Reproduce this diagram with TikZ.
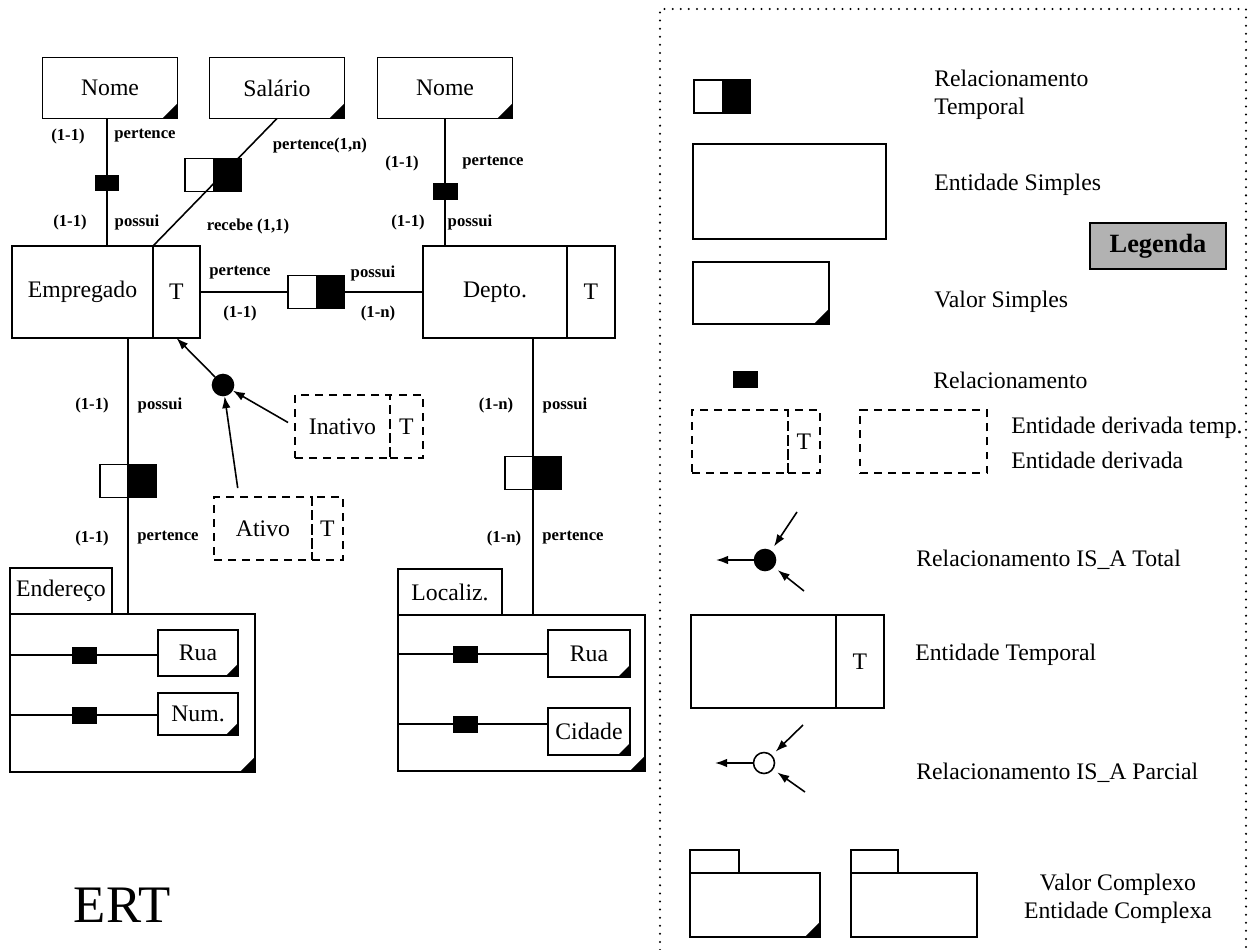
\documentclass[tikz,border=0pt]{standalone}
\usepackage{fontspec}
\setmainfont{Liberation Serif}
\usetikzlibrary{arrows.meta, positioning}
\tikzset{
  ent/.style={
    rectangle, draw, line width=0.9pt, fill=white,
    inner sep=0pt, outer sep=0pt,
    font=\fontsize{13.5}{16}\selectfont
  },
  val/.style={
    ent,
    path picture={\fill[black] (path picture bounding box.south east)
      -- ++(-#1,0) -- ++(#1,#1) -- cycle;}
  },
  val/.default=0.3cm,
  der/.style={ent, fill=none, dash pattern=on 4.5pt off 3.5pt},
  tabbox/.style={ent, anchor=south west, minimum height=0.92cm},
  rel/.style={
    rectangle, fill=black, inner sep=0pt,
    minimum width=0.5cm, minimum height=0.34cm
  },
  relt/.style={
    rectangle, draw, line width=0.9pt, fill=white, inner sep=0pt,
    minimum width=1.12cm, minimum height=0.66cm,
    path picture={\fill[black] (path picture bounding box.north)
      rectangle (path picture bounding box.south east);}
  },
  isa/.style={circle, draw, line width=0.9pt, inner sep=0pt, minimum size=0.42cm},
  lbl/.style={font=\fontsize{9.5}{11}\selectfont\bfseries, inner sep=0pt},
  leg/.style={font=\fontsize{13.5}{16}\selectfont, anchor=west, inner sep=0pt, align=left},
  conn/.style={line width=0.9pt},
  arr/.style={line width=0.9pt, -{Latex[length=2.4mm,width=1.7mm]}},
  frm/.style={line width=1.3pt, dash pattern=on 0pt off 4.6pt, line cap=round}
}

\begin{document}
\begin{tikzpicture}[x=0.02cm, y=-0.02cm]
\useasboundingbox (0,0) rectangle (1255,950);

% Entidades temporais
\node[ent, minimum width=2.82cm, minimum height=1.84cm] (emp) at (82.5,292) {Empregado};
\node[ent, minimum width=0.94cm, minimum height=1.84cm, right=0pt of emp] (empT) {T};
\node[ent, minimum width=2.88cm, minimum height=1.84cm] (dep) at (495,292) {Depto.};
\node[ent, minimum width=0.96cm, minimum height=1.84cm, right=0pt of dep] (depT) {T};

% Valores simples
\node[val, minimum width=2.7cm, minimum height=1.22cm] (nome1) at (110,88) {Nome};
\node[val, minimum width=2.7cm, minimum height=1.22cm] (sal) at (277,88) {Salário};
\node[val, minimum width=2.7cm, minimum height=1.22cm] (nome2) at (445,88) {Nome};

% Relacionamentos
\node[rel] (r1) at (107,183) {};
\node[relt] (rt1) at (213,175) {};
\node[rel] (r2) at (445,191) {};
\node[relt] (rt2) at (316,292) {};
\node[relt] (rt3) at (128,481) {};
\node[relt] (rt4) at (533,473) {};

% Entidades derivadas
\node[der, minimum width=1.9cm, minimum height=1.26cm] (inat) at (342.5,426.5) {Inativo};
\node[der, minimum width=0.66cm, minimum height=1.26cm, right=0pt of inat] (inatT) {T};
\node[der, minimum width=1.96cm, minimum height=1.26cm] (ativo) at (263,528.5) {Ativo};
\node[der, minimum width=0.62cm, minimum height=1.26cm, right=0pt of ativo] (ativoT) {T};
\node[isa, fill=black] (isa1) at (223,385) {};

% Valores complexos
\node[val, minimum width=4.9cm, minimum height=3.16cm] (endr) at (132.5,693) {};
\node[tabbox, minimum width=2.04cm] (endrtab) at (endr.north west) {Endereço};
\node[val=0.24cm, minimum width=1.6cm, minimum height=0.92cm] (rua1) at (198,653) {Rua};
\node[val=0.24cm, minimum width=1.6cm, minimum height=0.84cm] (num) at (198,714) {Num.};
\node[rel] (r3) at (84.5,655) {};
\node[rel] (r4) at (84.5,715) {};

\node[val, minimum width=4.94cm, minimum height=3.12cm] (loc) at (521.5,693) {};
\node[tabbox, minimum width=2.08cm] (loctab) at (loc.north west) {Localiz.};
\node[val=0.24cm, minimum width=1.64cm, minimum height=0.94cm] (rua2) at (589,653.5) {Rua};
\node[val=0.24cm, minimum width=1.64cm, minimum height=0.94cm] (cid) at (589,731.5) {Cidade};
\node[rel] (r5) at (465,654) {};
\node[rel] (r6) at (465,724) {};

% Ligacoes
\draw[conn] (nome1.south -| r1) -- (emp.north -| r1);
\draw[conn] (sal.south) -- (empT.north west);
\draw[conn] (nome2.south -| r2) -- (dep.north -| r2);
\draw[conn] (empT.east) -- (rt2.west);
\draw[conn] (rt2.east) -- (dep.west);
\draw[conn] (emp.south -| rt3) -- (endr.north -| rt3);
\draw[conn] (dep.south -| rt4) -- (loc.north -| rt4);
\draw[conn] (endr.west |- r3) -- (rua1.west |- r3);
\draw[conn] (endr.west |- r4) -- (num.west |- r4);
\draw[conn] (loc.west |- r5) -- (rua2.west |- r5);
\draw[conn] (loc.west |- r6) -- (cid.west |- r6);
\draw[arr] (isa1) -- (empT.south);
\draw[arr, shorten <=0.16cm] (inat.west) -- (isa1);
\draw[arr, shorten <=0.18cm] ([xshift=0.5cm]ativo.north west) -- (isa1);

% Cardinalidades
\node[lbl] (c1) at (68,136) {(1-1)};
\node[lbl] (p1) at (145,136) {pertence};
\node[lbl] (c2) at (70,222) {(1-1)};
\node[lbl] (p2) at (137,222) {possui};
\node[lbl] (p3) at (320,145) {pertence(1,n)};
\node[lbl] (p4) at (248,226) {recebe (1,1)};
\node[lbl] (c3) at (402,163) {(1-1)};
\node[lbl] (p5) at (493,163) {pertence};
\node[lbl] (c4) at (408,222) {(1-1)};
\node[lbl] (p6) at (470,222) {possui};
\node[lbl] (p7) at (240,273) {pertence};
\node[lbl] (p8) at (373,273) {possui};
\node[lbl] (c5) at (240,313) {(1-1)};
\node[lbl] (c6) at (378,313) {(1-n)};
\node[lbl] (c7) at (92,405) {(1-1)};
\node[lbl] (p9) at (160,405) {possui};
\node[lbl] (c8) at (92,538) {(1-1)};
\node[lbl] (p10) at (168,538) {pertence};
\node[lbl] (c9) at (496,405) {(1-n)};
\node[lbl] (p11) at (565,405) {possui};
\node[lbl] (c10) at (504,538) {(1-n)};
\node[lbl] (p12) at (573,538) {pertence};

\node[font=\fontsize{30}{36}\selectfont] (ert) at (122,905) {ERT};

% Legenda
\draw[frm] (660,950) -- (660,9) -- (1246,9) -- (1246,950);
\node[relt] (lrt) at (722,96.5) {};
\node[leg] (t1) at (934,94.5) {Relacionamento\\Temporal};
\node[ent, minimum width=3.86cm, minimum height=1.9cm] (lsimp) at (789.5,191.5) {};
\node[leg] (t2) at (934,185) {Entidade Simples};
\node[ent, fill=black!30, minimum width=2.72cm, minimum height=0.92cm,
      font=\fontsize{15}{18}\selectfont\bfseries] (lgd) at (1158,246) {Legenda};
\node[val, minimum width=2.72cm, minimum height=1.24cm] (lval) at (761,293) {};
\node[leg] (t3) at (934,302) {Valor Simples};
\node[rel] (lrel) at (745.5,379.5) {};
\node[leg] (t4) at (933,380) {Relacionamento};
\node[der, minimum width=1.92cm, minimum height=1.26cm] (ldt) at (740,441.5) {};
\node[der, minimum width=0.64cm, minimum height=1.26cm, right=0pt of ldt] (ldtT) {T};
\node[der, minimum width=2.54cm, minimum height=1.26cm] (ld) at (923.5,441.5) {};
\node[leg] (t5) at (1011,428) {Entidade derivada temp.};
\node[leg] (t6) at (1011,460) {Entidade derivada};

\node[isa, fill=black] (lisa1) at (765,560) {};
\coordinate (a1) at (716,560);
\coordinate (a2) at (797,512);
\coordinate (a3) at (804,591);
\draw[arr] (lisa1) -- (a1);
\draw[arr, shorten >=0.1cm] (a2) -- (lisa1);
\draw[arr, shorten >=0.1cm] (a3) -- (lisa1);
\node[leg] (t7) at (916,560) {Relacionamento IS\_A Total};

\node[ent, minimum width=2.9cm, minimum height=1.86cm] (let) at (763.5,661.5) {};
\node[ent, minimum width=0.96cm, minimum height=1.86cm, right=0pt of let] (letT) {T};
\node[leg] (t8) at (915,655) {Entidade Temporal};

\node[isa] (lisa2) at (764,763) {};
\coordinate (a4) at (715,763);
\coordinate (a5) at (803,725);
\coordinate (a6) at (805,792);
\draw[arr] (lisa2) -- (a4);
\draw[arr, shorten >=0.1cm] (a5) -- (lisa2);
\draw[arr, shorten >=0.1cm] (a6) -- (lisa2);
\node[leg] (t9) at (916,773) {Relacionamento IS\_A Parcial};

\node[val, minimum width=2.6cm, minimum height=1.28cm] (lvc) at (755,905) {};
\node[tabbox, minimum width=0.98cm, minimum height=0.46cm] (lvctab) at (lvc.north west) {};
\node[ent, minimum width=2.52cm, minimum height=1.28cm] (lec) at (914,905) {};
\node[tabbox, minimum width=0.94cm, minimum height=0.46cm] (lectab) at (lec.north west) {};
\node[leg, anchor=center, align=center] (t10) at (1118,899) {Valor Complexo\\Entidade Complexa};

\end{tikzpicture}
\end{document}
